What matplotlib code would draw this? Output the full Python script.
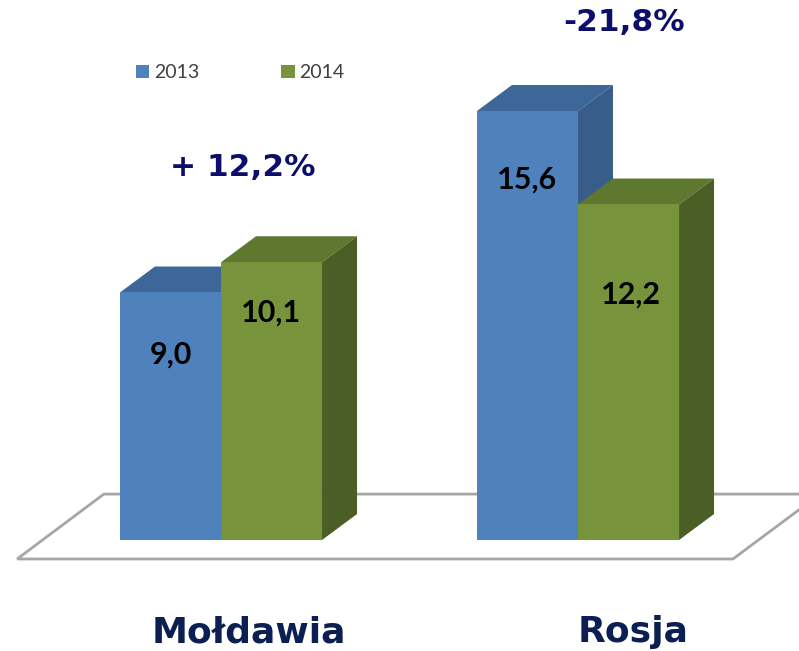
import numpy as np
import matplotlib
matplotlib.use("Agg")
from matplotlib import pyplot as plt
from matplotlib.patches import Polygon, Patch

# data
countries = ["Mołdawia", "Rosja"]
years = ["2013", "2014"]
values_2013 = [9.0, 15.6]
values_2014 = [10.1, 12.2]
changes = ["+ 12,2%", "-21,8%"]

front_colors = ["#4f81bd", "#77933c"]
top_colors = ["#3d6699", "#5e7830"]
side_colors = ["#385d8a", "#4a5e25"]

fig = plt.figure(figsize=(7.99, 6.51), dpi=100)
ax = fig.add_axes([0, 0, 1, 1])
ax.set_xlim(-0.619, 1.619)
ax.set_ylim(-4.036, 19.636)
ax.axis("off")

width = 0.283
dx = 0.098   # depth offset in x
dy = 0.945   # depth offset in y

# floor
floor = Polygon([(-0.571, -0.69), (1.434, -0.69), (1.678, 1.67), (-0.328, 1.67)],
                closed=True, facecolor="white", edgecolor="#a6a6a6", lw=2, zorder=1)
ax.add_patch(floor)

x = np.arange(len(countries))
series = [values_2013, values_2014]
for i in range(len(countries)):
    for j, vals in enumerate(series):
        left = x[i] - width + j * width
        h = vals[i]
        z = 2 + j
        ax.bar(left, h, width=width, align="edge", color=front_colors[j], zorder=z + 0.2)
        top = Polygon([(left, h), (left + width, h), (left + width + dx, h + dy), (left + dx, h + dy)],
                      closed=True, facecolor=top_colors[j], edgecolor="none", zorder=z)
        side = Polygon([(left + width, 0), (left + width + dx, dy), (left + width + dx, h + dy), (left + width, h)],
                       closed=True, facecolor=side_colors[j], edgecolor="none", zorder=z)
        ax.add_patch(top)
        ax.add_patch(side)

# value labels (position as fraction of bar height)
label_pos = [[(0.5, 0.748), (0.5, 0.817)], [(0.5, 0.839), (0.52, 0.730)]]
for i in range(len(countries)):
    for j, vals in enumerate(series):
        left = x[i] - width + j * width
        fx, fy = label_pos[i][j]
        ax.text(left + width * fx, vals[i] * fy, f"{vals[i]:.1f}".replace(".", ","),
                ha="center", va="center", fontsize=22, fontweight="bold",
                family="Lato", color="black", zorder=10)

# percentage changes
ax.text(x[0] + 0.06, 13.55, changes[0], ha="center", va="center", fontsize=22.5,
        fontweight="bold", color="#0d0d6b", zorder=10)
ax.text(x[1] + 0.13, 18.8, changes[1], ha="center", va="center", fontsize=22.5,
        fontweight="bold", color="#0d0d6b", zorder=10)

# category labels
for i, name in enumerate(countries):
    ax.text(x[i] + 0.077 * (1 - i) + 0.155 * i, -3.35, name, ha="center", va="center",
            fontsize=26, fontweight="bold", color="#0c1f52", zorder=10)

# legend
handles = [Patch(facecolor=front_colors[k], label=years[k]) for k in range(2)]
leg = ax.legend(handles=handles, ncol=2, frameon=False, loc="center left",
                bbox_to_anchor=(0.148, 0.888), handlelength=0.7, handleheight=0.7,
                handletextpad=0.25, columnspacing=4.2, prop={"family": "Lato", "size": 14})
for t in leg.get_texts():
    t.set_color("#404040")

fig.savefig("out.png", dpi=100)
